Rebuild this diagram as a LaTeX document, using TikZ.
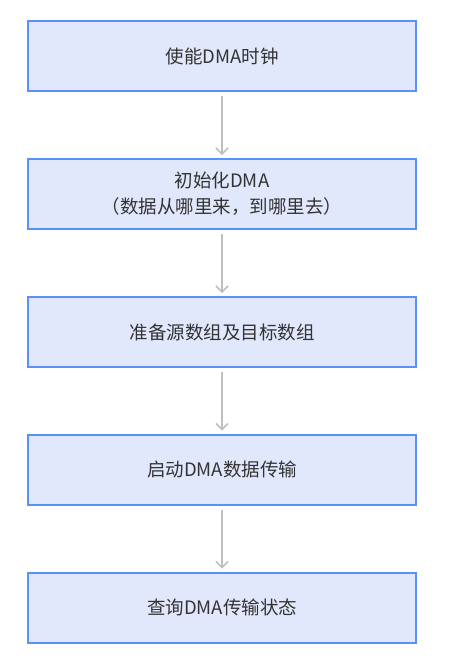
\documentclass[tikz,border=0pt]{standalone}
\usepackage{fontspec}
\setmainfont{Noto Sans CJK SC}
\usetikzlibrary{arrows.meta}
\definecolor{boxfill}{HTML}{E1E8FC}
\definecolor{boxline}{HTML}{5B8FF9}
\definecolor{arrowc}{HTML}{BFBFBF}
\definecolor{txt}{HTML}{333333}
\begin{document}
\begin{tikzpicture}[x=1pt,y=-1pt,
  stepbox/.style={draw=boxline,line width=2pt,fill=boxfill,minimum width=388pt,minimum height=70pt,
    inner sep=0pt,align=center,font=\fontsize{18.5}{26}\selectfont,text=txt},
  flow/.style={draw=arrowc,line width=1.5pt,-{Straight Barb[length=6pt,width=12pt]}, shorten <=4pt, shorten >=3pt}]
\useasboundingbox[fill=white] (0,0) rectangle (449,659);
\node[stepbox] (b1) at (222,56) {使能DMA时钟};
\node[stepbox] (b2) at (222,194) {初始化DMA\\（数据从哪里来，到哪里去）};
\node[stepbox] (b3) at (222,332) {准备源数组及目标数组};
\node[stepbox] (b4) at (222,469.5) {启动DMA数据传输};
\node[stepbox] (b5) at (222,607.5) {查询DMA传输状态};
\draw[flow] (b1) -- (b2);
\draw[flow] (b2) -- (b3);
\draw[flow] (b3) -- (b4);
\draw[flow] (b4) -- (b5);
\end{tikzpicture}
\end{document}
